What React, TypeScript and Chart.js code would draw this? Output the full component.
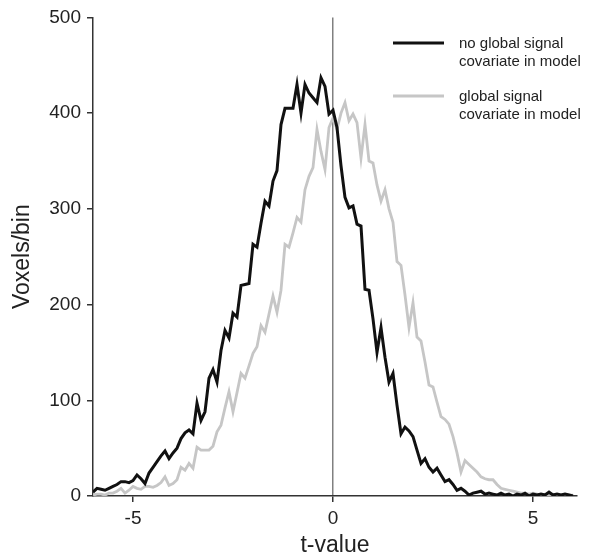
import React, { useEffect, useRef } from "react";
import { Chart, registerables } from "chart.js";

Chart.register(...registerables);

const tBins = [
  -6.0, -5.9, -5.8, -5.7, -5.6, -5.5, -5.4, -5.3, -5.2, -5.1,
  -5.0, -4.9, -4.8, -4.7, -4.6, -4.5, -4.4, -4.3, -4.2, -4.1,
  -4.0, -3.9, -3.8, -3.7, -3.6, -3.5, -3.4, -3.3, -3.2, -3.1,
  -3.0, -2.9, -2.8, -2.7, -2.6, -2.5, -2.4, -2.3, -2.2, -2.1,
  -2.0, -1.9, -1.8, -1.7, -1.6, -1.5, -1.4, -1.3, -1.2, -1.1,
  -1.0, -0.9, -0.8, -0.7, -0.6, -0.5, -0.4, -0.3, -0.2, -0.1,
  0.0, 0.1, 0.2, 0.3, 0.4, 0.5, 0.6, 0.7, 0.8, 0.9,
  1.0, 1.1, 1.2, 1.3, 1.4, 1.5, 1.6, 1.7, 1.8, 1.9,
  2.0, 2.1, 2.2, 2.3, 2.4, 2.5, 2.6, 2.7, 2.8, 2.9,
  3.0, 3.1, 3.2, 3.3, 3.4, 3.5, 3.6, 3.7, 3.8, 3.9,
  4.0, 4.1, 4.2, 4.3, 4.4, 4.5, 4.6, 4.7, 4.8, 4.9,
  5.0, 5.1, 5.2, 5.3, 5.4, 5.5, 5.6, 5.7, 5.8, 5.9,
  6.0,
];

const noGlobalValues = [
  4, 8, 7, 6, 8, 10, 12, 15, 15, 14,
  16, 22, 18, 13, 24, 30, 36, 42, 47, 39,
  45, 50, 60, 66, 69, 65, 97, 79, 88, 123,
  132, 119, 152, 173, 165, 191, 187, 220, 221, 222,
  263, 260, 285, 308, 303, 329, 340, 388, 405, 405,
  405, 430, 400, 430, 421, 416, 411, 437, 428, 399,
  403, 385, 345, 312, 301, 303, 284, 282, 216, 215,
  185, 150, 176, 145, 119, 128, 95, 65, 72, 68,
  62, 48, 34, 39, 30, 25, 29, 22, 15, 17,
  12, 6, 8, 5, 1, 3, 4, 5, 2, 3,
  2, 1, 3, 1, 2, 0, 2, 1, 3, 0,
  2, 1, 2, 1, 4, 1, 2, 1, 2, 1,
  0,
];

const globalValues = [
  1, 2, 2, 1, 3, 3, 5, 8, 3, 6,
  10, 8, 7, 10, 10, 9, 11, 14, 20, 11,
  13, 17, 30, 27, 34, 29, 51, 48, 48, 48,
  52, 67, 74, 92, 109, 88, 108, 128, 123, 136,
  149, 156, 178, 171, 190, 209, 192, 215, 263, 260,
  275, 291, 286, 320, 334, 343, 383, 360, 341, 385,
  395, 383, 400, 411, 392, 399, 390, 353, 388, 350,
  348, 325, 308, 320, 300, 286, 245, 241, 210, 176,
  202, 166, 162, 140, 116, 114, 98, 83, 80, 75,
  62, 45, 25, 37, 33, 29, 25, 20, 18, 17,
  17, 12, 8, 7, 6, 5, 4, 3, 3, 2,
  3, 2, 1, 2, 1, 2, 1, 1, 2, 1,
  1,
];

const xTickValues = [-5, 0, 5];
const yTickValues = [0, 100, 200, 300, 400, 500];
const legendLines = [
  ["no global signal", "covariate in model"],
  ["global signal", "covariate in model"],
];
const xTitle = "t-value";
const yTitle = "Voxels/bin";

const FONT = "'Liberation Sans', Arial, Helvetica, sans-serif";

const legendPlugin = {
  id: "customLegend",
  afterDraw(chart: any) {
    const ctx = chart.ctx;
    const items = [
      { lineY: 43, textY: [44, 62] },
      { lineY: 96, textY: [97, 115] },
    ];
    ctx.save();
    chart.data.datasets.forEach((ds: any, i: number) => {
      const it = items[i];
      ctx.strokeStyle = ds.borderColor;
      ctx.lineWidth = 3;
      ctx.beginPath();
      ctx.moveTo(393, it.lineY);
      ctx.lineTo(444, it.lineY);
      ctx.stroke();
      ctx.fillStyle = "#222";
      ctx.font = `15px ${FONT}`;
      ctx.textAlign = "left";
      ctx.textBaseline = "middle";
      legendLines[i].forEach((line, j) => {
        ctx.fillText(line, 459, it.textY[j]);
      });
    });
    ctx.restore();
  },
};

export default function App() {
  const canvasRef = useRef<HTMLCanvasElement | null>(null);

  useEffect(() => {
    if (!canvasRef.current) return;
    const chart = new Chart(canvasRef.current, {
      type: "line",
      data: {
        datasets: [
          {
            label: legendLines[0].join(" "),
            data: tBins.map((t, i) => ({ x: t, y: noGlobalValues[i] })),
            borderColor: "#111111",
            borderWidth: 3,
            pointRadius: 0,
            tension: 0,
            fill: false,
          },
          {
            label: legendLines[1].join(" "),
            data: tBins.map((t, i) => ({ x: t, y: globalValues[i] })),
            borderColor: "#c6c6c6",
            borderWidth: 2.8,
            pointRadius: 0,
            tension: 0,
            fill: false,
          },
        ],
      },
      options: {
        animation: false,
        responsive: false,
        maintainAspectRatio: false,
        layout: { padding: { top: 16, right: 16, left: 0, bottom: 0 } },
        plugins: {
          legend: { display: false },
          tooltip: { enabled: false },
        },
        scales: {
          x: {
            type: "linear",
            min: -6,
            max: 6.1,
            afterBuildTicks: (scale: any) => {
              scale.ticks = xTickValues.map((v) => ({ value: v }));
            },
            afterFit: (scale: any) => {
              scale.height = 61;
            },
            border: { display: true, color: "#333333", width: 1.5 },
            grid: {
              display: true,
              drawOnChartArea: true,
              drawTicks: true,
              tickLength: 6,
              lineWidth: 1.5,
              color: (c: any) => (c.tick && c.tick.value === 0 ? "#808080" : "rgba(0,0,0,0)"),
              tickColor: "#333333",
            },
            ticks: {
              color: "#222",
              padding: 5,
              maxRotation: 0,
              font: { family: FONT, size: 19 },
            },
            title: {
              display: true,
              text: xTitle,
              color: "#222",
              padding: { top: 0, bottom: 0 },
              font: { family: FONT, size: 23, lineHeight: 1 },
            },
          },
          y: {
            type: "linear",
            min: 0,
            max: 500,
            afterBuildTicks: (scale: any) => {
              scale.ticks = yTickValues.map((v) => ({ value: v }));
            },
            afterFit: (scale: any) => {
              scale.width = 93;
            },
            border: { display: true, color: "#333333", width: 1.5 },
            grid: {
              display: true,
              drawOnChartArea: false,
              drawTicks: true,
              tickLength: 6,
              lineWidth: 1.5,
              tickColor: "#333333",
            },
            ticks: {
              color: "#222",
              padding: 6,
              font: { family: FONT, size: 19 },
            },
            title: {
              display: true,
              text: yTitle,
              color: "#222",
              padding: { top: 11, bottom: 0 },
              font: { family: FONT, size: 23, lineHeight: 1 },
            },
          },
        },
      },
      plugins: [legendPlugin],
    });
    return () => chart.destroy();
  }, []);

  return (
    <div style={{ position: "fixed", left: 0, top: 0, width: 593, height: 557, background: "#fff" }}>
      <canvas ref={canvasRef} width={593} height={557} style={{ width: 593, height: 557, display: "block" }} />
    </div>
  );
}
